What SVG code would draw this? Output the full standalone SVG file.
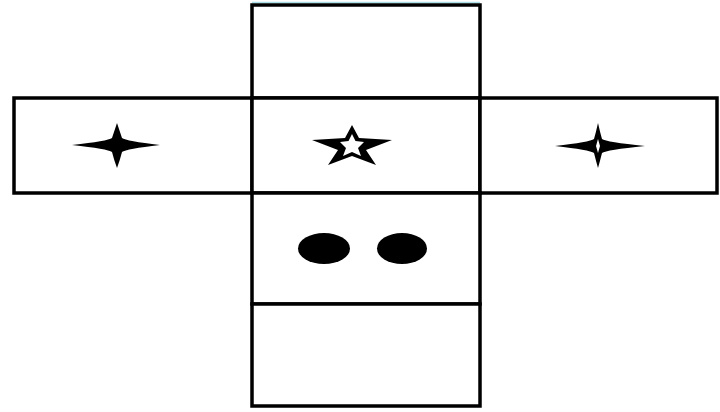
<svg xmlns="http://www.w3.org/2000/svg" width="720" height="412" viewBox="0 0 720 412">
<style>
.face{fill:#fff;stroke:#000;stroke-width:3.5;stroke-linejoin:miter}
.ink{fill:#000;stroke:none}
.hole{fill:#fff;stroke:none}
</style>
<rect width="720" height="412" fill="#fff"/>
<line x1="252" y1="2.5" x2="480" y2="2.5" stroke="#a9dfe6" stroke-width="1.5"/>
<g id="face-top"><rect class="face" x="252" y="5" width="228" height="93"/></g>
<g id="face-left"><rect class="face" x="14" y="98" width="238" height="95"/>
<path class="ink" d="M72,145 Q108,141 112,138 Q114,132 117,123 Q120,132 122,138 Q126,141 160,145 Q126,149 122,152 Q120,160 117,168 Q114,160 112,152 Q108,149 72,145 Z"/></g>
<g id="face-center"><rect class="face" x="252" y="98" width="228" height="95"/>
<polygon class="ink" points="352,125 359,138 392,140 366,150 376,165 352,156 328,165 338,150 312,140 345,138"/>
<polygon class="hole" points="352,134 355.5,141 364,142 358,148 361,156 352,152 343,156 346,148 340,142 348.5,141"/></g>
<g id="face-right"><rect class="face" x="480" y="98" width="237" height="95"/>
<path class="ink" d="M555,146 Q590,142 594,139 Q596,132 598,123 Q600,132 602,139 Q606,142 645,146 Q606,150 602,153 Q600,161 598,168 Q596,161 594,153 Q590,150 555,146 Z"/>
<path class="hole" d="M598,139 L600,146 L598,153 L596,146 Z"/></g>
<g id="face-bottom"><rect class="face" x="252" y="193" width="228" height="111"/>
<ellipse class="ink" cx="324" cy="248.5" rx="26" ry="15.5"/>
<ellipse class="ink" cx="402" cy="248.5" rx="25" ry="15.5"/></g>
<g id="face-back"><rect class="face" x="252" y="304" width="228" height="102"/></g>
<g id="connectors"></g>
</svg>
